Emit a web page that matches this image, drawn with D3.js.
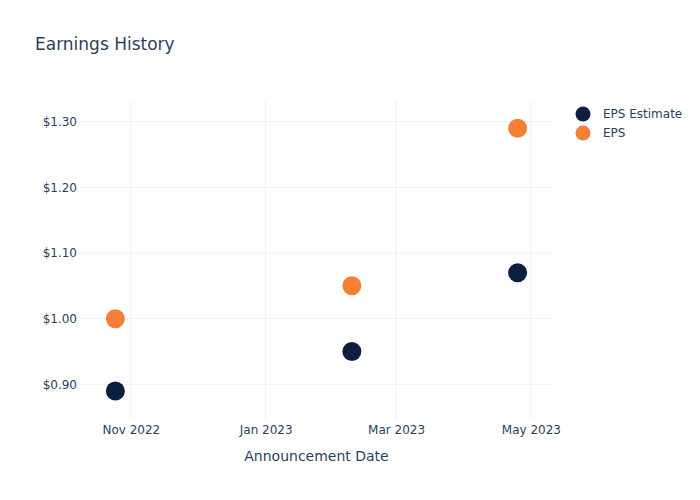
<!DOCTYPE html>
<html><head><meta charset="utf-8">
<script src="https://cdn.jsdelivr.net/npm/d3@7"></script>
<style>body{margin:0;background:#fff;} text{font-family:"DejaVu Sans",sans-serif;}</style>
</head><body><svg id="c" width="700" height="500"></svg>
<script>
const dates = ["2022-10-25", "2023-02-09", "2023-04-25"];
const epsEstimate = [0.89, 0.95, 1.07];
const eps = [1.00, 1.05, 1.29];
const yTicks = [0.90, 1.00, 1.10, 1.20, 1.30];
const xTickDates = ["2022-11-01", "2023-01-01", "2023-03-01", "2023-05-01"];
const seriesNames = ["EPS Estimate", "EPS"];
const colors = ["#0c1f3f", "#f67f35"];

const parse = d3.timeParse("%Y-%m-%d");
const svg = d3.select("#c");
const m = {l:80, r:147, t:100, b:80};
const W = 700, H = 500;
const FF = '"DejaVu Sans",sans-serif';
const x = d3.scaleTime().domain([parse("2022-10-09"), parse("2023-05-11")]).range([m.l, W - m.r]);
const y = d3.scaleLinear().domain([0.8457, 1.333]).range([H - m.b, m.t]);
const textColor = "#2a3f5f", grid = "#ebf0f8";

svg.append("text").attr("x", 35).attr("y", 50).attr("font-size", 17).attr("fill", textColor).text("Earnings History");

const g = svg.append("g");
g.selectAll(".yg").data(yTicks).join("line")
  .attr("x1", m.l).attr("x2", W - m.r).attr("y1", d => y(d)).attr("y2", d => y(d))
  .attr("stroke", grid).attr("stroke-width", 1);
g.selectAll(".xg").data(xTickDates.map(parse)).join("line")
  .attr("x1", d => x(d)).attr("x2", d => x(d)).attr("y1", m.t).attr("y2", H - m.b)
  .attr("stroke", grid).attr("stroke-width", 1);

const yAxis = d3.axisLeft(y).tickValues(yTicks).tickFormat(d => "$" + d.toFixed(2)).tickSize(0).tickPadding(3);
const ya = svg.append("g").attr("transform", `translate(${m.l},0)`).call(yAxis);
ya.select(".domain").remove();
ya.selectAll("text").attr("font-size", 12).attr("fill", textColor).attr("font-family", FF);

const xAxis = d3.axisBottom(x).tickValues(xTickDates.map(parse)).tickFormat(d3.timeFormat("%b %Y")).tickSize(0).tickPadding(5);
const xa = svg.append("g").attr("transform", `translate(0,${H - m.b})`).call(xAxis);
xa.select(".domain").remove();
xa.selectAll("text").attr("font-size", 12).attr("fill", textColor).attr("font-family", FF);

svg.append("text").attr("x", (m.l + W - m.r) / 2).attr("y", 461).attr("text-anchor", "middle")
  .attr("font-size", 14).attr("fill", textColor).text("Announcement Date");

[epsEstimate, eps].forEach((vals, i) => {
  svg.append("g").selectAll("circle").data(vals).join("circle")
    .attr("cx", (d, j) => x(parse(dates[j]))).attr("cy", d => y(d)).attr("r", 9.5)
    .attr("fill", colors[i]);
});

const lg = svg.append("g");
seriesNames.forEach((n, i) => {
  lg.append("circle").attr("cx", 583).attr("cy", 114 + i * 19).attr("r", 7.5).attr("fill", colors[i]);
  lg.append("text").attr("x", 603).attr("y", 118 + i * 19).attr("font-size", 12).attr("fill", textColor).text(n);
});
</script></body></html>
